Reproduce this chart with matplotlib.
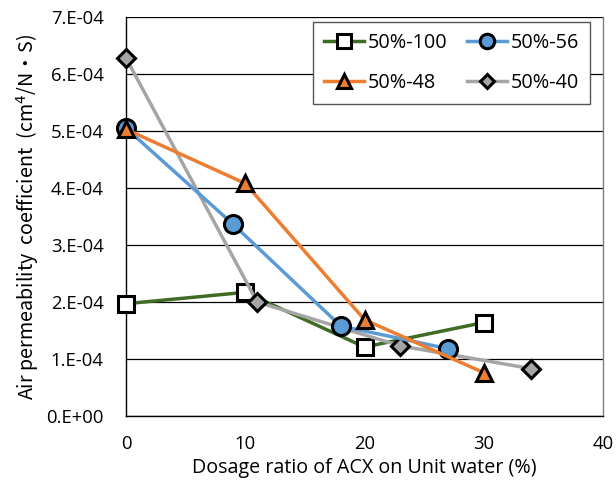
import matplotlib
matplotlib.use("Agg")
import matplotlib.pyplot as plt

x_100 = [0, 10, 20, 30]
y_100 = [1.97e-4, 2.17e-4, 1.21e-4, 1.64e-4]
x_56 = [0, 9, 18, 27]
y_56 = [5.05e-4, 3.36e-4, 1.58e-4, 1.18e-4]
x_48 = [0, 10, 20, 30]
y_48 = [5.03e-4, 4.08e-4, 1.69e-4, 0.76e-4]
x_40 = [0, 11, 23, 34]
y_40 = [6.28e-4, 2.00e-4, 1.23e-4, 0.83e-4]

labels = ["50%-100", "50%-56", "50%-48", "50%-40"]
yticks = [0, 1e-4, 2e-4, 3e-4, 4e-4, 5e-4, 6e-4, 7e-4]
ytick_labels = ["0.E+00", "1.E-04", "2.E-04", "3.E-04", "4.E-04", "5.E-04", "6.E-04", "7.E-04"]
xticks = [0, 10, 20, 30, 40]

plt.rcParams['font.family'] = ['Open Sans', 'DejaVu Sans']

fig = plt.figure(figsize=(6.16, 4.86), dpi=100)
ax = fig.add_axes([126/616, 1-416/486, (603-126)/616, (416-17)/486])

ax.set_xlim(0, 40)
ax.set_ylim(0, 7e-4)
ax.set_yticks(yticks)
ax.set_yticklabels(ytick_labels)
ax.set_xticks(xticks)
ax.grid(axis='y', color='black', linewidth=0.9)
ax.set_axisbelow(True)
for s in ['left', 'bottom']:
    ax.spines[s].set_color('black')
    ax.spines[s].set_linewidth(1.0)
ax.spines['top'].set_visible(False)
ax.spines['right'].set_color('#7f7f7f')
ax.spines['right'].set_linewidth(1.0)
ax.tick_params(length=0, labelsize=13.3)
ax.tick_params(axis='x', pad=14)
ax.tick_params(axis='y', pad=16)

ms = 12
mew = 2.2
l1, = ax.plot(x_100, y_100, color='#3f6b24', lw=2.5, marker='s', ms=ms,
              mfc='white', mec='black', mew=mew, label=labels[0], clip_on=False, zorder=3)
l4, = ax.plot(x_40, y_40, color='#a5a5a5', lw=2.5, marker='D', ms=9,
              mfc='#a5a5a5', mec='black', mew=mew, label=labels[3], clip_on=False, zorder=3)
l2, = ax.plot(x_56, y_56, color='#5b9bd5', lw=2.5, marker='o', ms=ms+1,
              mfc='#5b9bd5', mec='black', mew=mew, label=labels[1], clip_on=False, zorder=4)
l3, = ax.plot(x_48, y_48, color='#ed7d31', lw=2.5, marker='^', ms=ms,
              mfc='#ed7d31', mec='black', mew=mew, label=labels[2], clip_on=False, zorder=5)

ax.set_xlabel("Dosage ratio of ACX on Unit water (%)", fontsize=14.2, labelpad=3)
ax.set_ylabel("Air permeability  coefficient  (cm$^4$/N・S)", fontsize=14.2, labelpad=4,
              family=['Noto Sans CJK JP', 'Open Sans'])

leg = ax.legend(handles=[l1, l3, l2, l4], labels=[labels[0], labels[2], labels[1], labels[3]],
                ncol=2, loc='upper right',
                bbox_to_anchor=((590-126)/477, 1 - 5/399), borderaxespad=0, fontsize=14.3,
                frameon=True, fancybox=False, edgecolor='#555555', framealpha=1,
                handlelength=2.0, handletextpad=0.2, columnspacing=1.0,
                labelspacing=1.0, borderpad=0.55, markerscale=0.8)
leg.get_frame().set_linewidth(1.0)

fig.savefig("out.png", dpi=100)
